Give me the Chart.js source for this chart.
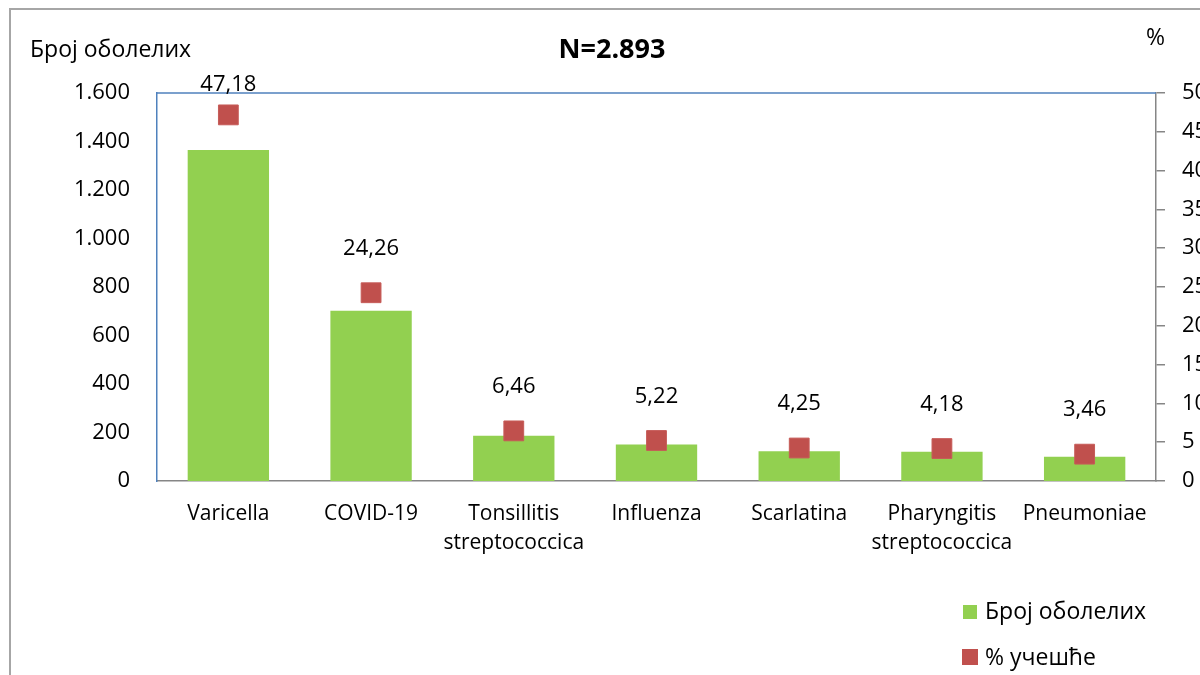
<!DOCTYPE html>
<html lang="sr">
<head>
  <meta charset="UTF-8">
  <script src="https://cdn.jsdelivr.net/npm/chart.js"></script>
  <title>Број оболелих</title>
  <style>
    html, body { margin:0; padding:0; background:#fff; }
    #wrap { width:1200px; height:675px; position:relative; }
  </style>
</head>
<body>
  <div id="wrap">
    <canvas id="myChart" width="1200" height="675"></canvas>
  </div>
  <script>
    // podaci
    const categories = ['Varicella', 'COVID-19', ['Tonsillitis', 'streptococcica'], 'Influenza', 'Scarlatina', ['Pharyngitis', 'streptococcica'], 'Pneumoniae'];
    const cases = [1365, 702, 187, 151, 123, 121, 100];
    const share = [47.18, 24.26, 6.46, 5.22, 4.25, 4.18, 3.46];
    const leftTicks = [0, 200, 400, 600, 800, 1000, 1200, 1400, 1600];
    const rightTicks = [0, 5, 10, 15, 20, 25, 30, 35, 40, 45, 50];
    const seriesNames = ['Број оболелих', '% учешће'];
    const chartTitle = 'N=2.893';

    const FONT = '"Open Sans", "Noto Sans", sans-serif';
    const GREEN = '#92D050';
    const RED = '#C0504D';

    const fmt = v => String(v).replace(/\B(?=(\d{3})+(?!\d))/g, '.');

    // okvir, naslovi, vrednosti, legenda
    const extras = {
      id: 'extras',
      beforeDraw(chart) {
        const c = chart.ctx;
        c.save();
        c.strokeStyle = '#A6A6A6';
        c.lineWidth = 2;
        c.beginPath();
        c.moveTo(10, 675); c.lineTo(10, 9); c.lineTo(1200, 9);
        c.stroke();
        c.restore();
      },
      afterDraw(chart) {
        const c = chart.ctx;
        const a = chart.chartArea;
        c.save();
        // plava ivica (gore)
        c.strokeStyle = '#4F81BD';
        c.lineWidth = 1.5;
        c.beginPath();
        c.moveTo(a.left, a.top); c.lineTo(a.right, a.top);
        c.stroke();

        c.fillStyle = '#000';
        c.textBaseline = 'middle';
        c.font = 'bold 27px ' + FONT;
        c.textAlign = 'center';
        c.fillText(chartTitle, 612, 50);

        c.font = '23px ' + FONT;
        c.textAlign = 'left';
        c.fillText(seriesNames[0], 30, 50);
        c.fillText('%', 1146, 38);

        // vrednosti iznad kvadrata
        c.font = '22px ' + FONT;
        c.textAlign = 'center';
        chart.getDatasetMeta(1).data.forEach((p, i) => {
          const lift = Math.min(44, p.y - a.top + 8);
          c.fillText(share[i].toFixed(2).replace('.', ','), p.x, p.y - lift);
        });

        // legenda
        c.fillStyle = GREEN;
        c.fillRect(963, 605, 14, 14);
        c.fillStyle = RED;
        c.fillRect(962, 649, 16, 16);
        c.fillStyle = '#000';
        c.font = '23px ' + FONT;
        c.textAlign = 'left';
        c.fillText(seriesNames[0], 985, 612);
        c.fillText(seriesNames[1], 985, 658);
        c.restore();
      }
    };

    new Chart(document.getElementById('myChart'), {
      data: {
        labels: categories,
        datasets: [
          {
            type: 'bar',
            label: seriesNames[0],
            data: cases,
            backgroundColor: GREEN,
            yAxisID: 'y',
            categoryPercentage: 1,
            barPercentage: 0.57,
            order: 2
          },
          {
            type: 'line',
            label: seriesNames[1],
            data: share,
            yAxisID: 'y1',
            showLine: false,
            pointStyle: 'rect',
            pointRadius: 14,
            pointHoverRadius: 14,
            pointBackgroundColor: RED,
            pointBorderColor: '#C65B58',
            pointBorderWidth: 1,
            order: 1
          }
        ]
      },
      options: {
        responsive: false,
        animation: false,
        layout: { padding: { top: 93, left: 0, right: 0, bottom: 0 } },
        plugins: {
          legend: { display: false },
          tooltip: { enabled: false },
          title: { display: false }
        },
        scales: {
          x: {
            grid: { display: false, drawTicks: false },
            border: { color: '#868686', width: 1.5 },
            ticks: { color: '#000', font: { family: FONT, size: 21, lineHeight: 1.4 }, padding: 18, maxRotation: 0, autoSkip: false },
            afterFit(s) { s.height = 194; }
          },
          y: {
            position: 'left',
            min: 0, max: 1600,
            grid: { display: false, drawTicks: false },
            border: { color: '#4F81BD', width: 1.5 },
            ticks: { color: '#000', font: { family: FONT, size: 22 }, padding: 27, callback: v => fmt(v) },
            afterBuildTicks(s) { s.ticks = leftTicks.map(v => ({ value: v })); },
            afterFit(s) { s.width = 157; }
          },
          y1: {
            position: 'right',
            min: 0, max: 50,
            grid: { drawOnChartArea: false, drawTicks: true, tickLength: 9, color: '#868686', lineWidth: 1.5 },
            border: { color: '#868686', width: 1.5 },
            ticks: { color: '#000', font: { family: FONT, size: 22 }, padding: 17 },
            afterBuildTicks(s) { s.ticks = rightTicks.map(v => ({ value: v })); },
            afterFit(s) { s.width = 44; }
          }
        }
      },
      plugins: [extras]
    });
  </script>
</body>
</html>
